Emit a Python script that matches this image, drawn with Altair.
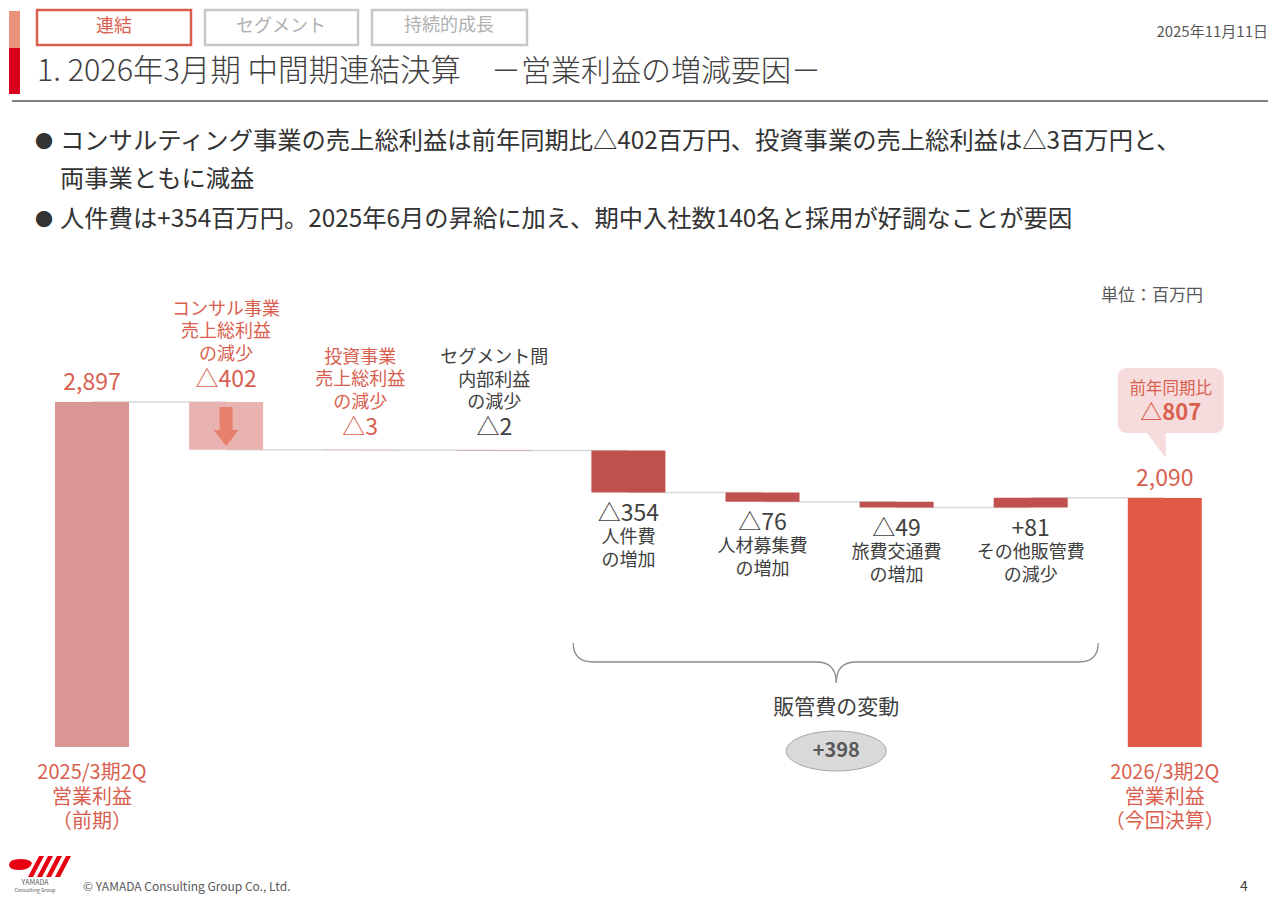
import altair as alt
import pandas as pd

FONT = "Noto Sans CJK JP"
RED_TXT = "#D9604F"
DARK = "#404040"
GREY = "#595959"

# ---------------- data ----------------
categories = [
    ["2025/3期2Q", "営業利益", "（前期）"],
    ["コンサル事業", "売上総利益", "の減少"],
    ["投資事業", "売上総利益", "の減少"],
    ["セグメント間", "内部利益", "の減少"],
    ["人件費", "の増加"],
    ["人材募集費", "の増加"],
    ["旅費交通費", "の増加"],
    ["その他販管費", "の減少"],
    ["2026/3期2Q", "営業利益", "（今回決算）"],
]
prev_total = 2897
curr_total = 2090
deltas = [-402, -3, -2, -354, -76, -49, 81]
value_labels = ["2,897", "△402", "△3", "△2", "△354", "△76", "△49", "+81", "2,090"]
yoy_label = ["前年同期比", "△807"]
sga_title = "販管費の変動"
sga_total = "+398"
unit_label = "単位：百万円"

# ---------------- styles ----------------
bar_fill = ["#D99694", "#E9B3B1", "#E9B3B1", "#C0504D", "#C0504D", "#C0504D", "#C0504D", "#C0504D", "#E05A47"]
label_fill = [RED_TXT, RED_TXT, RED_TXT, DARK, DARK, DARK, DARK, DARK, RED_TXT]

# ---------------- derived tables ----------------
levels = [prev_total]
for d in deltas:
    levels.append(levels[-1] + d)

rows, line_rows = [], []
for i in range(len(categories)):
    if i == 0:
        lo, hi = 0, prev_total
    elif i == len(categories) - 1:
        lo, hi = 0, curr_total
    else:
        lo, hi = min(levels[i - 1], levels[i]), max(levels[i - 1], levels[i])
    grp = "total" if i in (0, 8) else ("above" if i <= 3 else "below")
    rows.append({"i": i, "lo": lo, "hi": hi, "mid": (lo + hi) / 2, "grp": grp,
                 "val": value_labels[i], "fill": bar_fill[i], "tfill": label_fill[i]})
    for n, s in enumerate(categories[i]):
        line_rows.append({"i": i, "lo": lo, "hi": hi, "grp": grp, "n": n, "t": s, "tfill": label_fill[i]})
bars = pd.DataFrame(rows)
lines = pd.DataFrame(line_rows)
conn = pd.DataFrame({"i": list(range(8)), "i2": list(range(1, 9)), "level": levels})

consult = bars[bars.i == 1]
sga_center = pd.DataFrame({"i": [5.55], "t": [sga_title], "v": [sga_total]})

W, H = 1264, 888
k = 0.11909
y0 = 739
ydom = [-(H - y0) / k, -(H - y0) / k + H / k]
xs = 134.1
xdom = [-84 / xs, -84 / xs + W / xs]

X = lambda f="i": alt.X(f"{f}:Q", scale=alt.Scale(domain=xdom, nice=False, zero=False, padding=0), axis=None)
Y = lambda f: alt.Y(f"{f}:Q", scale=alt.Scale(domain=ydom, nice=False, zero=False, padding=0), axis=None)
TC = alt.Color("tfill:N", scale=None)

layers = []

# connectors
layers.append(alt.Chart(conn).mark_rule(color="#D9D9D9", strokeWidth=1.5).encode(
    x=X("i"), x2="i2:Q", y=Y("level")))

# bars
layers.append(alt.Chart(bars).mark_bar(size=74).encode(
    x=X("i"), y=Y("lo"), y2="hi:Q", color=alt.Color("fill:N", scale=None)))

# arrow in consult bar
ARROW = "M -6.5 -19 L 6.5 -19 L 6.5 4 L 12.5 4 L 0 20 L -12.5 4 L -6.5 4 Z"
layers.append(alt.Chart(consult).mark_point(shape=ARROW, size=4, filled=True, fill="#E8806E",
                                            strokeWidth=0, opacity=1).encode(x=X("i"), y=Y("mid")))

# value labels
val_spec = {"total": ("hi", -19), "above": ("hi", -22), "below": ("lo", 21)}
for g, (anchor, dy) in val_spec.items():
    layers.append(alt.Chart(bars).transform_filter(alt.datum.grp == g).mark_text(
        font=FONT, fontSize=23, baseline="middle", dy=dy).encode(
        x=X("i"), y=Y(anchor), text="val:N", color=TC))

# category labels (one layer per line)
cat_spec = {"total": ("lo", 20, 26, 24.5), "above": ("hi", 18, -92, 22.5), "below": ("lo", 18, 45, 23)}
for g, (anchor, fs, first, lh) in cat_spec.items():
    for n in range(3):
        layers.append(alt.Chart(lines).transform_filter(
            (alt.datum.grp == g) & (alt.datum.n == n)).mark_text(
            font=FONT, fontSize=fs, baseline="middle", dy=first + n * lh).encode(
            x=X("i"), y=Y(anchor), text="t:N", color=TC))

# brace, sga label, ellipse
BRACE = "M -263 -19 Q -263 0 -243 0 L -20 0 Q 0 0 0 21 Q 0 0 20 0 L 242 0 Q 262 0 262 -19"
layers.append(alt.Chart(sga_center).mark_point(shape=BRACE, size=4, filled=False, stroke="#8C8C8C",
                                                strokeWidth=1.3, opacity=1).encode(
    x=X("i"), y=alt.value(662 - 8)))
layers.append(alt.Chart(sga_center).mark_text(font=FONT, fontSize=21, color=DARK, baseline="middle").encode(
    x=X("i"), y=alt.value(708 - 8), text="t:N"))
ELLIPSE = "M -50 0 A 50 20 0 1 0 50 0 A 50 20 0 1 0 -50 0 Z"
layers.append(alt.Chart(sga_center).mark_point(shape=ELLIPSE, size=4, filled=True, fill="#D9D9D9",
                                                stroke="#A6A6A6", strokeWidth=1, opacity=1).encode(
    x=X("i"), y=alt.value(751 - 8)))
layers.append(alt.Chart(sga_center).mark_text(font=FONT, fontSize=20, fontWeight="bold", color=GREY,
                                               baseline="middle").encode(
    x=X("i"), y=alt.value(751 - 8), text="v:N"))

# callout bubble above last bar
BUBBLE = ("M -37 -130 L 49 -130 Q 59 -130 59 -120 L 59 -75 Q 59 -65 49 -65 L 1 -65 L 1 -40 "
          "L -18 -65 L -37 -65 Q -47 -65 -47 -75 L -47 -120 Q -47 -130 -37 -130 Z")
layers.append(alt.Chart(bars).transform_filter(alt.datum.i == 8).mark_point(
    shape=BUBBLE, size=4, filled=True, fill="#F6DCDC", strokeWidth=0, opacity=1).encode(x=X("i"), y=Y("hi")))
bub = pd.DataFrame({"i": [8], "hi": [curr_total], "a": [yoy_label[0]], "b": [yoy_label[1]]})
layers.append(alt.Chart(bub).mark_text(font=FONT, fontSize=16.5, color=RED_TXT, baseline="middle",
                                       dx=6, dy=-109).encode(x=X("i"), y=Y("hi"), text="a:N"))
layers.append(alt.Chart(bub).mark_text(font=FONT, fontSize=22, fontWeight="bold", color=RED_TXT,
                                       baseline="middle", dx=6, dy=-85).encode(x=X("i"), y=Y("hi"), text="b:N"))


# ---------------- slide decorations ----------------
def txt(s, x, y, size, color, align="left", weight="normal"):
    return alt.Chart(pd.DataFrame({"t": [s]})).mark_text(
        font=FONT, fontSize=size, color=color, align=align, baseline="middle", fontWeight=weight
    ).encode(x=alt.value(x - 8), y=alt.value(y - 8), text="t:N")


def box(x1, y1, x2, y2, fill, stroke=None, sw=0):
    kw = dict(fill=fill, strokeWidth=sw)
    if stroke:
        kw["stroke"] = stroke
    return alt.Chart(pd.DataFrame({"d": [0]})).mark_rect(**kw).encode(
        x=alt.value(x1 - 8), x2=alt.value(x2 - 8), y=alt.value(y1 - 8), y2=alt.value(y2 - 8))


layers.append(txt(unit_label, 1203, 296, 17, GREY, align="right"))

# left accent bar
layers.append(box(9, 11, 20, 48, "#E9937B"))
layers.append(box(9, 48, 20, 94, "#D9001B"))
# tabs
layers.append(box(37, 10, 191, 45, "white", "#D9604F", 2.5))
layers.append(box(205, 10, 358, 45, "white", "#C8C8C8", 2.5))
layers.append(box(372, 10, 527, 45, "white", "#C8C8C8", 2.5))
layers.append(txt("連結", 114, 27, 18, "#D9604F", align="center"))
layers.append(txt("セグメント", 281, 27, 18, "#B0B0B0", align="center"))
layers.append(txt("持続的成長", 449, 26, 18, "#B0B0B0", align="center"))
# title
layers.append(txt("1. 2026年3月期 中間期連結決算", 37, 72, 30.5, DARK, weight=300))
layers.append(txt("－営業利益の増減要因－", 491, 72, 30, DARK, weight=300))
layers.append(alt.Chart(pd.DataFrame({"d": [0]})).mark_rule(color="#595959", strokeWidth=1.5).encode(
    x=alt.value(12 - 8), x2=alt.value(1268 - 8), y=alt.value(101 - 8)))
layers.append(txt("2025年11月11日", 1268, 32, 15, GREY, align="right"))
# bullets
layers.append(txt("●", 44, 143, 18, "#333333", align="center"))
layers.append(txt("コンサルティング事業の売上総利益は前年同期比△402百万円、投資事業の売上総利益は△3百万円と、", 60, 142, 24.3, "#333333"))
layers.append(txt("両事業ともに減益", 60, 180, 24.3, "#333333"))
layers.append(txt("●", 44, 221, 18, "#333333", align="center"))
layers.append(txt("人件費は+354百万円。2025年6月の昇給に加え、期中入社数140名と採用が好調なことが要因", 60, 220, 24.3, "#333333"))
# footer
LOGO = ("M -29 -2 Q -29 -8 -18 -8 Q -8 -8 -6 -4 Q -8 3 -18 3 Q -29 3 -29 -2 Z "
        "M -10 10 L -5 10 L 6 -11 L 1 -11 Z M -1 10 L 4 10 L 15 -11 L 10 -11 Z "
        "M 8 10 L 13 10 L 24 -11 L 19 -11 Z M 17 10 L 22 10 L 33 -11 L 28 -11 Z")
layers.append(alt.Chart(pd.DataFrame({"d": [0]})).mark_point(shape=LOGO, size=4, filled=True, fill="#E60012",
                                                             strokeWidth=0, opacity=1).encode(
    x=alt.value(38 - 8), y=alt.value(867 - 8)))
layers.append(txt("YAMADA", 35, 883, 7, GREY, align="center"))
layers.append(txt("Consulting Group", 35, 890, 5, GREY, align="center"))
layers.append(txt("© YAMADA Consulting Group Co., Ltd.", 83, 887, 12, GREY))
layers.append(txt("4", 1240, 887, 14, DARK))

chart = alt.layer(*layers).properties(
    width=W, height=H, padding=0, autosize=alt.AutoSizeParams(type="none"), background="white"
).configure_view(stroke=None)

chart.save("out.html", embed_options={"renderer": "svg", "actions": False})
